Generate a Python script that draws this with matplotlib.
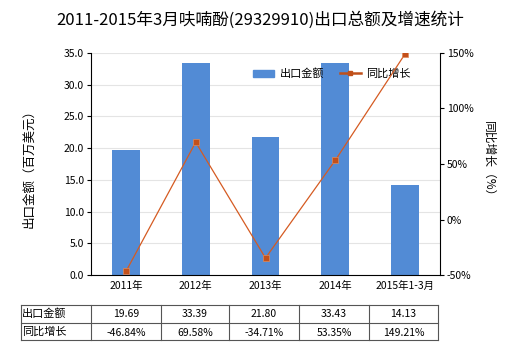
import matplotlib
matplotlib.use("Agg")
import matplotlib.pyplot as plt
from matplotlib.lines import Line2D
import numpy as np

plt.rcParams['font.family'] = ['Noto Sans CJK SC', 'DejaVu Sans']

categories = ['2011年', '2012年', '2013年', '2014年', '2015年1-3月']
export_values = [19.69, 33.39, 21.80, 33.43, 14.13]
growth_values = [-46.84, 69.58, -34.71, 53.35, 149.21]
export_labels = ['19.69', '33.39', '21.80', '33.43', '14.13']
growth_labels = ['-46.84%', '69.58%', '-34.71%', '53.35%', '149.21%']

W, H = 520, 350
fig = plt.figure(figsize=(5.2, 3.5), dpi=100)
L, R, T, B = 91, 440, 53, 275
ax = fig.add_axes([L / W, 1 - B / H, (R - L) / W, (B - T) / H])
x = np.arange(len(categories))
bar_color = '#528bd5'
line_color = '#d55b22'
marker_color = '#c4501a'
ax.bar(x, export_values, width=0.4, color=bar_color, zorder=2, label='出口金额')
ax.set_xlim(-0.5, len(categories) - 0.5)
ax.set_ylim(0, 35)
ax.set_yticks(np.arange(0, 35.1, 5))
ax.set_yticklabels([f'{v:.1f}' for v in np.arange(0, 35.1, 5)], fontsize=7.5)
ax.set_xticks(x)
ax.set_xticklabels(categories, fontsize=7.5)
ax.tick_params(axis='x', length=0, pad=4)
ax.tick_params(axis='y', length=3, width=0.8, pad=2)
ax.grid(axis='y', color='#e4e4e4', linewidth=0.8, zorder=0)
ax.set_axisbelow(True)
ax.spines['top'].set_visible(False)
ax.spines['right'].set_visible(False)
ax.spines['left'].set_color('black')
ax.spines['bottom'].set_color('black')

ax2 = ax.twinx()
ax2.plot(x, growth_values, color=line_color, linewidth=0.9, marker='s', markersize=4,
         markerfacecolor=marker_color, markeredgecolor='#e08a5a', markeredgewidth=0.5, zorder=3)
ax2.set_ylim(-50, 150)
ax2.set_yticks([-50, 0, 50, 100, 150])
ax2.set_yticklabels(['-50%', '0%', '50%', '100%', '150%'], fontsize=7.5)
ax2.tick_params(axis='y', length=3, width=0.8, pad=2)
ax2.spines['top'].set_visible(False)
ax2.spines['left'].set_visible(False)
ax2.spines['bottom'].set_visible(False)
ax2.spines['right'].set_color('black')

fig.text(0.5, 1 - 20 / H, '2011-2015年3月呋喃酚(29329910)出口总额及增速统计',
         ha='center', va='center', fontsize=12)
fig.text(29 / W, 1 - 165 / H, '出口金额（百万美元）', rotation=90, ha='center', va='center', fontsize=9)
fig.text(489 / W, 1 - 162 / H, '同比增长（%）', rotation=270, ha='center', va='center', fontsize=8.5)

handles = [plt.Rectangle((0, 0), 1, 1, color=bar_color),
           Line2D([0], [0], color='#c0501a', marker='s', markersize=3.5, linewidth=1.8)]
ax.legend(handles, ['出口金额', '同比增长'], loc='upper right', bbox_to_anchor=(0.945, 0.975),
          ncol=2, frameon=False, fontsize=8, handlelength=1.9, columnspacing=1.4, handletextpad=0.5)

# data table
tL, tR, tT, tM, tB = 21, 438, 305, 323, 340
col_edges = [21, 91, 161, 229, 299, 369, 438]
lc = '#555555'
for yy in [tT, tM, tB]:
    fig.add_artist(Line2D([tL / W, tR / W], [1 - yy / H, 1 - yy / H], color=lc, linewidth=0.8))
for xx in col_edges:
    fig.add_artist(Line2D([xx / W, xx / W], [1 - tT / H, 1 - tB / H], color=lc, linewidth=0.8))
rows = [('出口金额', export_labels), ('同比增长', growth_labels)]
for r, (name, labels) in enumerate(rows):
    yc = 313 + 19 * r
    fig.text(22 / W, 1 - yc / H, name, ha='left', va='center', fontsize=8)
    for i, lab in enumerate(labels):
        xc = (col_edges[i + 1] + col_edges[i + 2]) / 2
        fig.text(xc / W, 1 - (yc + 1) / H, lab, ha='center', va='center', fontsize=7.5)

fig.savefig('out.png', dpi=100)
